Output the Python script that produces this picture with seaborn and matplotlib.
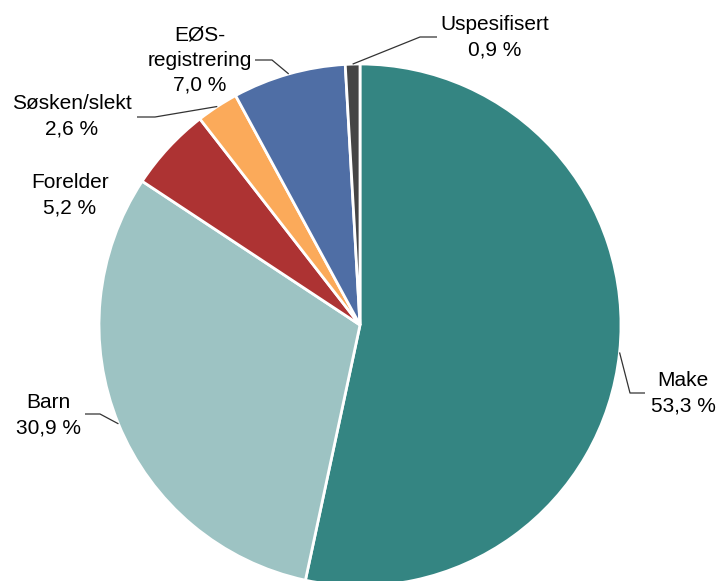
import numpy as np
import matplotlib
matplotlib.use("Agg")
import matplotlib.pyplot as plt
import seaborn as sns

# data
kategorier = ["Make", "Barn", "Forelder", "Søsken/slekt", "EØS-\nregistrering", "Uspesifisert"]
andel = [53.3, 30.9, 5.2, 2.6, 7.0, 0.9]
farger = ["#348582", "#9dc3c3", "#ad3333", "#fbaa5a", "#4f6ea5", "#454545"]

sns.set_theme(style="white")
plt.rcParams['font.family'] = ['Liberation Sans', 'DejaVu Sans']

# pie centre/radius in pixels
CX, CY, R = 360, 325, 261
W, H = 716, 581

def px(x, y):
    return (x - CX) / R, (CY - y) / R

# label placement (pixels): text centre, elbow, line end at text
etikett_pos = [(683, 393), (48, 415), (70, 195), (72, 116), (200, 60), (495, 37)]
knekk = [(630, 393), (100, 414), None, (155, 117), (272, 60), (420, 37)]
linje_slutt = [(645, 393), (85, 414), None, (137, 117), (255, 60), (437, 37)]

fig = plt.figure(figsize=(W / 100, H / 100), dpi=100)
ax = fig.add_axes([0, 0, 1, 1])

wedges, _ = ax.pie(andel, colors=sns.color_palette(farger), startangle=90,
                   counterclock=False, radius=1,
                   wedgeprops=dict(edgecolor="white", linewidth=2))

for i, w in enumerate(wedges):
    midt = np.deg2rad((w.theta1 + w.theta2) / 2)
    tx, ty = px(*etikett_pos[i])
    tekst = "{}\n{} %".format(kategorier[i], str(andel[i]).replace(".", ","))
    ax.text(tx, ty, tekst, ha="center", va="center", fontsize=15,
            linespacing=1.42, color="black")
    if knekk[i] is not None:
        kx, ky = px(*knekk[i])
        ex, ey = px(*linje_slutt[i])
        ax.plot([np.cos(midt), kx, ex], [np.sin(midt), ky, ey],
                color="#333333", lw=0.9, solid_capstyle="butt")

ax.set_xlim(-CX / R, (W - CX) / R)
ax.set_ylim((CY - H) / R, CY / R)
ax.set_aspect("auto")
ax.axis("off")

fig.savefig("out.png", dpi=100)
